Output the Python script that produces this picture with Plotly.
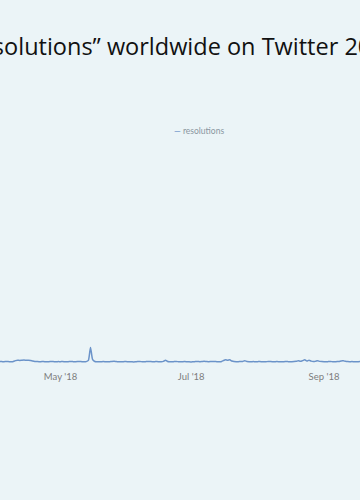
import pandas as pd
import plotly.graph_objects as go

title_text = "“resolutions” worldwide on Twitter 2018"
series_name = "resolutions"
start_date = "2018-04-01"

apr = [2050, 2000, 2080, 1980, 2030, 2060, 2010, 1990, 2100, 2500,
       2650, 2600, 2700, 2750, 2650, 2700, 2550, 2300, 2100, 2050,
       1980, 2020, 2060, 2000, 1990, 2040, 2080, 2010, 1970, 2030]
may = [2010, 2060, 2000, 1980, 2040, 2090, 2020, 1990, 2030, 2070,
       2000, 1960, 2020, 2600, 8600, 2900, 2100, 2000, 1950, 2010,
       2050, 2000, 1980, 2020, 2100, 2150, 2050, 1990, 1940, 2000, 2050]
jun = [2020, 1980, 2000, 1900, 1950, 2030, 2060, 2010, 1990, 2040,
       2080, 2030, 1990, 2010, 2050, 2000, 2020, 2150, 2700, 2100,
       2000, 1980, 2030, 2060, 2010, 1980, 2020, 2050, 1970, 1920]
jul = [1900, 1980, 2050, 2100, 2020, 2060, 2150, 2080, 2000, 2040,
       2120, 2060, 2000, 1950, 2000, 2500, 2900, 2650, 2850, 2300,
       2050, 1990, 2020, 2060, 2100, 2450, 2100, 2000, 1980, 2030, 2000]
aug = [2020, 2050, 2000, 1970, 2010, 2060, 2030, 1990, 2020, 2040,
       2000, 1960, 2010, 2050, 2030, 1990, 2010, 2060, 2150, 2400,
       2200, 2500, 2900, 2300, 2700, 2250, 2100, 2200, 2450, 2150, 2050]
sep = [2000, 1980, 2030, 2060, 2010, 1990, 2040, 2100, 2350, 2400,
       2150, 2030, 2000, 2040, 2010, 1980, 2020, 2050, 2000, 2010]

values = apr + may + jun + jul + aug + sep
dates = pd.date_range(start_date, periods=len(values), freq="D")

x_range = ["2018-04-02 18:00", "2018-09-17 19:00"]
y_range = [0, 100000]

fig = go.Figure()
fig.add_trace(go.Scatter(
    x=dates, y=values, mode="lines", name=series_name,
    line=dict(color="#6b93c9", width=1.5, shape="spline", smoothing=0.6),
    showlegend=False,
))

fig.update_layout(
    width=360, height=500,
    margin=dict(l=0, r=0, t=150, b=134),
    paper_bgcolor="#ebf4f7", plot_bgcolor="#ebf4f7",
    title=dict(text=title_text, x=0.5, xanchor="center", xref="paper",
               y=1 - 47 / 500, yanchor="middle", yref="container",
               font=dict(family="Open Sans", size=23.5, color="#111111", weight=500)),
    xaxis=dict(range=x_range, showgrid=False, zeroline=False, showline=False,
               ticks="", dtick="M2", tick0="2018-05-01", tickformat="%b '%y",
               ticklabelstandoff=3,
               tickfont=dict(family="Lato", size=9.5, color="#7d7d7d")),
    yaxis=dict(range=y_range, visible=False),
    annotations=[dict(
        text="<span style='color:#6b93c9'>—</span> " + series_name,
        x=198.5 / 360, y=(366 - 131) / 216, xref="paper", yref="paper",
        xanchor="center", yanchor="middle", showarrow=False,
        font=dict(family="Lato", size=8.5, color="#8a96a0"),
    )],
)

fig.write_html("out.html")
